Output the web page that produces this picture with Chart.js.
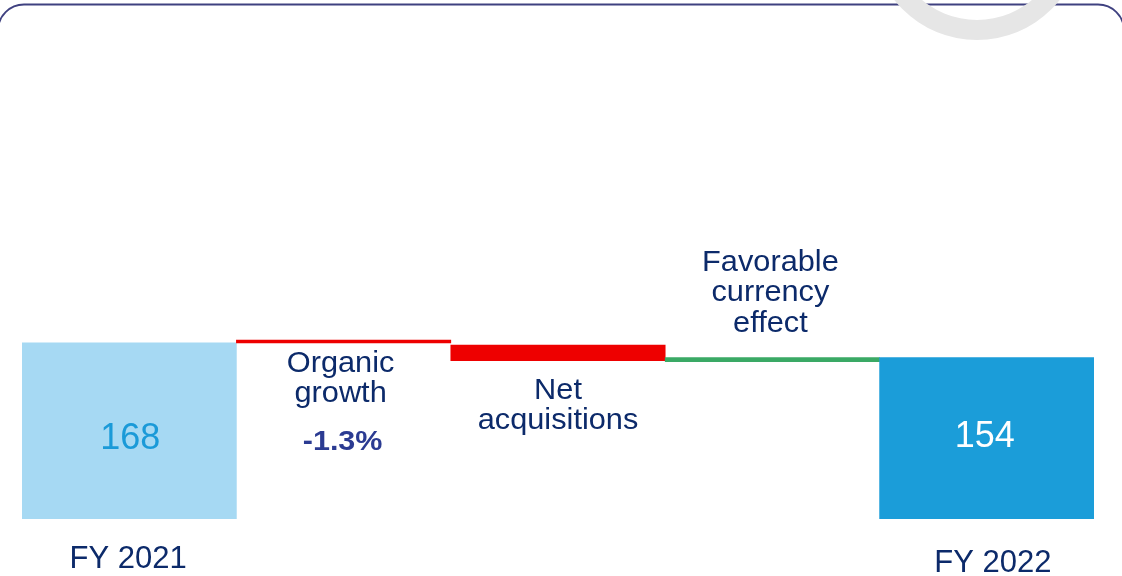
<!DOCTYPE html>
<html>
<head>
<meta charset="utf-8">
<script src="https://cdn.jsdelivr.net/npm/chart.js@4"></script>
<style>
html,body{margin:0;padding:0;background:#fff;}
#wrap{width:1122px;height:576px;position:relative;}
</style>
</head>
<body>
<div id="wrap"><canvas id="c" width="1122" height="576"></canvas></div>
<script>
// ---- data ----
const categories = ["FY 2021", "Organic growth", "Net acquisitions", "Favorable currency effect", "FY 2022"];
const barStart = [0, 168, 151, 150.2, 0];
const barEnd   = [168, 170.8, 166, 154, 154];
const valueLabels = ["168", "", "", "", "154"];
const stepLabels = [[], ["Organic", "growth"], ["Net", "acquisitions"], ["Favorable", "currency", "effect"], []];
const stepNote = ["", "-1.3%", "", "", ""];
const barColors = ["#a6d9f3", "#ee0000", "#ee0000", "#3aa965", "#1b9dd9"];

const NAVY = "#0c2a6a";

const framePlugin = {
  id: "frame",
  beforeDraw(chart) {
    const ctx = chart.ctx;
    ctx.save();
    ctx.fillStyle = "#fff";
    ctx.fillRect(0, 0, chart.width, chart.height);
    const x = -2, y = 4.5, w = 1126, h = 700, r = 26;
    ctx.beginPath();
    ctx.moveTo(x, y + h);
    ctx.lineTo(x, y + r);
    ctx.arcTo(x, y, x + r, y, r);
    ctx.lineTo(x + w - r, y);
    ctx.arcTo(x + w, y, x + w, y + r, r);
    ctx.lineTo(x + w, y + h);
    ctx.strokeStyle = "#3f4180";
    ctx.lineWidth = 1.8;
    ctx.stroke();
    ctx.beginPath();
    ctx.arc(977, -65.5, 105.5, 0, Math.PI * 2);
    ctx.arc(977, -65.5, 85.5, 0, Math.PI * 2, true);
    ctx.fillStyle = "#e6e6e6";
    ctx.fill("evenodd");
    ctx.restore();
  }
};

function drawText(ctx, txt, cx, cy, font, color, sx) {
  ctx.save();
  ctx.font = font;
  ctx.fillStyle = color;
  ctx.textAlign = "center";
  ctx.textBaseline = "middle";
  ctx.translate(cx, cy);
  ctx.scale(sx, 1);
  ctx.fillText(txt, 0, 0);
  ctx.restore();
}

const labelPlugin = {
  id: "labels",
  afterDatasetsDraw(chart) {
    const ctx = chart.ctx;
    const xs = chart.scales.x;
    const F = '"Liberation Sans", Arial, sans-serif';
    categories.forEach((cat, i) => {
      const cx = xs.getPixelForValue(i);
      if (i === 0 || i === 4) {
        const col = i === 0 ? "#1a9ad8" : "#ffffff";
        const vy = i === 0 ? 439 : 437;
        drawText(ctx, valueLabels[i], cx + (i === 0 ? 1 : -2), vy, "36px " + F, col, 1.0);
        const ly = i === 0 ? 559 : 563;
        drawText(ctx, cat, cx + (i === 0 ? -1 : 6), ly, "31px " + F, NAVY, 1.0);
      }
    });
    const starts = {1: 363.5, 2: 390.5, 3: 262.5};
    const dx = {1: -3, 2: 0, 3: -2};
    stepLabels.forEach((lines, i) => {
      if (!lines.length) return;
      const cx = xs.getPixelForValue(i) + dx[i];
      lines.forEach((ln, k) => {
        drawText(ctx, ln, cx, starts[i] + k * 30.5, "29px " + F, NAVY, 1.06);
      });
    });
    stepNote.forEach((n, i) => {
      if (!n) return;
      const cx = xs.getPixelForValue(i) - 1;
      drawText(ctx, n, cx, 443, "bold 27px " + F, "#2b3b92", 1.13);
    });
  }
};

new Chart(document.getElementById("c"), {
  type: "bar",
  data: {
    labels: categories,
    datasets: [{
      data: categories.map((c, i) => [barStart[i], barEnd[i]]),
      backgroundColor: barColors,
      borderWidth: 0,
      borderSkipped: false,
      barPercentage: 1.0,
      categoryPercentage: 1.0
    }]
  },
  options: {
    responsive: false,
    animation: false,
    events: [],
    layout: { padding: { left: 22, right: 28, top: 257, bottom: 57 } },
    plugins: { legend: { display: false }, tooltip: { enabled: false } },
    scales: {
      x: { display: false, grid: { display: false } },
      y: { display: false, min: 0, max: 250, grid: { display: false } }
    }
  },
  plugins: [framePlugin, labelPlugin]
});
</script>
</body>
</html>
